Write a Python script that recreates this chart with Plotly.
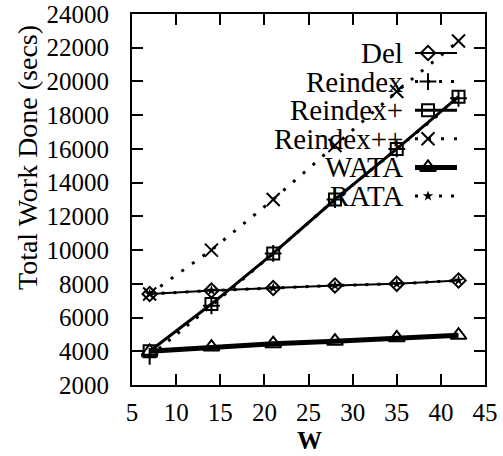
import plotly.graph_objects as go

# ---- data ----
W = [7, 14, 21, 28, 35, 42]
series_names = ["Del", "Reindex", "Reindex+", "Reindex++", "WATA", "RATA"]
del_vals = [7400, 7600, 7750, 7900, 8000, 8200]
reindex_vals = [3700, 6700, 9800, 13000, 16000, 19000]
reindex_p_vals = [4000, 6800, 9800, 13000, 16000, 19100]
reindex_pp_vals = [7400, 10000, 13000, 16200, 19400, 22400]
wata_vals = [4000, 4250, 4450, 4600, 4800, 4950]
rata_vals = [7400, 7600, 7750, 7900, 8000, 8200]

x_ticks = [5, 10, 15, 20, 25, 30, 35, 40, 45]
y_ticks = list(range(2000, 24001, 2000))

FONT = "Liberation Serif"
BLACK = "black"

# ---- styles ----
def mk(symbol, size):
    return dict(symbol=symbol, size=size, color=BLACK, line=dict(width=2, color=BLACK))

styles = {
    "Del": dict(line=dict(color=BLACK, width=2, dash="solid"), marker=mk("diamond-open", 11)),
    "Reindex": dict(line=dict(color=BLACK, width=3, dash="3px,9px"), marker=mk("cross-thin", 12)),
    "Reindex+": dict(line=dict(color=BLACK, width=3, dash="solid"), marker=mk("square-open", 12)),
    "Reindex++": dict(line=dict(color=BLACK, width=3, dash="3px,10px"), marker=mk("x-thin", 13)),
    "WATA": dict(line=dict(color=BLACK, width=5, dash="solid"), marker=mk("triangle-up-open", 14)),
    "RATA": dict(line=dict(color=BLACK, width=3, dash="3px,9px"),
                 marker=dict(symbol="star", size=8, color=BLACK, line=dict(width=0, color=BLACK))),
}
values = {
    "Del": del_vals, "Reindex": reindex_vals, "Reindex+": reindex_p_vals,
    "Reindex++": reindex_pp_vals, "WATA": wata_vals, "RATA": rata_vals,
}
draw_order = ["Reindex++", "RATA", "Reindex", "Del", "Reindex+", "WATA"]

fig = go.Figure()
for name in draw_order:
    st = styles[name]
    fig.add_trace(go.Scatter(x=W, y=values[name], mode="lines+markers", name=name,
                             line=st["line"], marker=st["marker"], showlegend=False,
                             cliponaxis=False))

# ---- manual key (text left, sample right) ----
L, R, T, B = 132, 485, 14, 385  # plot area in px
PW, PH = R - L, B - T
def fx(px):
    return (px - L) / PW
def fy(py):
    return (B - py) / PH

key_y0 = 53
key_dy = 28.6
key_text_right = 405
key_line = (415, 457)
key_marker_x = 428

annotations = []
for i, name in enumerate(series_names):
    py = key_y0 + i * key_dy
    st = styles[name]
    fig.add_trace(go.Scatter(x=[fx(key_line[0]), fx(key_line[1])], y=[fy(py), fy(py)],
                             mode="lines", line=st["line"], xaxis="x2", yaxis="y2",
                             showlegend=False, hoverinfo="skip"))
    fig.add_trace(go.Scatter(x=[fx(key_marker_x)], y=[fy(py)], mode="markers",
                             marker=st["marker"], xaxis="x2", yaxis="y2",
                             showlegend=False, hoverinfo="skip"))
    annotations.append(dict(text=name, x=fx(key_text_right), y=fy(py), xref="paper", yref="paper",
                            xanchor="right", yanchor="middle", showarrow=False,
                            font=dict(family=FONT, size=29, color=BLACK)))

annotations.append(dict(text="Total Work Done (secs)", x=fx(27), y=fy(158), xref="paper", yref="paper",
                        xanchor="center", yanchor="middle", textangle=-90, showarrow=False,
                        font=dict(family=FONT, size=28, color=BLACK)))
annotations.append(dict(text="<b>W</b>", x=fx(309), y=fy(456), xref="paper", yref="paper",
                        xanchor="center", yanchor="bottom", showarrow=False,
                        font=dict(family=FONT, size=25, color=BLACK)))

axis_common = dict(showgrid=False, zeroline=False, showline=True, linecolor=BLACK, linewidth=2,
                   mirror="ticks", ticks="inside", ticklen=11, tickwidth=2, tickcolor=BLACK,
                   automargin=False, ticklabeloverflow="allow",
                   tickfont=dict(family=FONT, size=25, color=BLACK))

fig.update_layout(
    width=503, height=456,
    margin=dict(l=L, r=503 - R, t=T, b=456 - B, pad=0, autoexpand=False),
    paper_bgcolor="white", plot_bgcolor="white",
    xaxis=dict(range=[5, 45], tickvals=x_ticks, ticktext=[str(v) for v in x_ticks],
               ticklabelstandoff=4, **axis_common),
    yaxis=dict(range=[2000, 24000], tickvals=y_ticks, ticktext=[str(v) for v in y_ticks],
               ticklabelstandoff=16, **axis_common),
    xaxis2=dict(range=[0, 1], overlaying="x", visible=False, fixedrange=True),
    yaxis2=dict(range=[0, 1], overlaying="y", visible=False, fixedrange=True),
    annotations=annotations,
    showlegend=False,
)

fig.write_html("out.html", config={"displayModeBar": False},
               post_script="document.body.style.margin='0px';document.body.style.padding='0px';")
